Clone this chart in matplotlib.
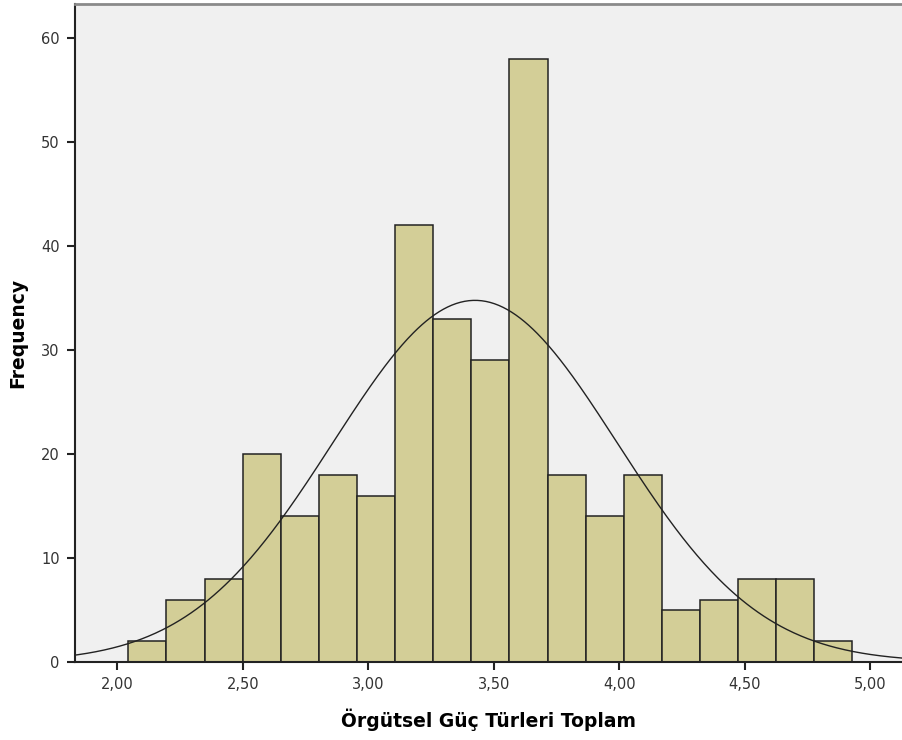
import numpy as np
import matplotlib
matplotlib.use("Agg")
import matplotlib.pyplot as plt

counts = [2, 6, 8, 20, 14, 18, 16, 42, 33, 29, 58, 18, 14, 18, 5, 6, 8, 8, 2]
bin_start = 2.044
bin_width = 0.1518
mean = 3.425
std = 0.566
xticks = [2.0, 2.5, 3.0, 3.5, 4.0, 4.5, 5.0]
xtick_labels = ["2,00", "2,50", "3,00", "3,50", "4,00", "4,50", "5,00"]
yticks = [0, 10, 20, 30, 40, 50, 60]

fig = plt.figure(figsize=(9.03, 7.40), dpi=100)
ax = fig.add_axes([75/903, 78/740, 828/903, 658/740])
ax.set_facecolor("#F0F0F0")

edges = bin_start + bin_width * np.arange(len(counts) + 1)
ax.bar(edges[:-1], counts, width=bin_width, align="edge",
       color="#D3CE97", edgecolor="#222222", linewidth=1.1, zorder=2)

n = sum(counts)
xs = np.linspace(1.80, 5.2, 600)
ys = n * bin_width / (std * np.sqrt(2 * np.pi)) * np.exp(-0.5 * ((xs - mean) / std) ** 2)
ax.plot(xs, ys, color="#222222", linewidth=1.0, zorder=3)

ax.set_xlim(1.8315, 5.130)
ax.set_ylim(0, 63.27)
ax.set_xticks(xticks)
ax.set_xticklabels(xtick_labels)
ax.set_yticks(yticks)
ax.tick_params(axis="both", direction="out", length=6, width=1.5, colors="#222222",
               labelsize=10.5, labelcolor="#333333", pad=5)

ax.spines["right"].set_visible(False)
ax.spines["top"].set_color("#8a8a8a")
ax.spines["top"].set_linewidth(2)
ax.spines["left"].set_color("#222222")
ax.spines["left"].set_linewidth(1.5)
ax.spines["bottom"].set_color("#222222")
ax.spines["bottom"].set_linewidth(1.5)

ax.set_xlabel("Örgütsel Güç Türleri Toplam", fontsize=13.5, fontweight="bold", labelpad=12)
ax.set_ylabel("Frequency", fontsize=13.5, fontweight="bold", labelpad=10)

fig.savefig("out.png", dpi=100, facecolor="white")
